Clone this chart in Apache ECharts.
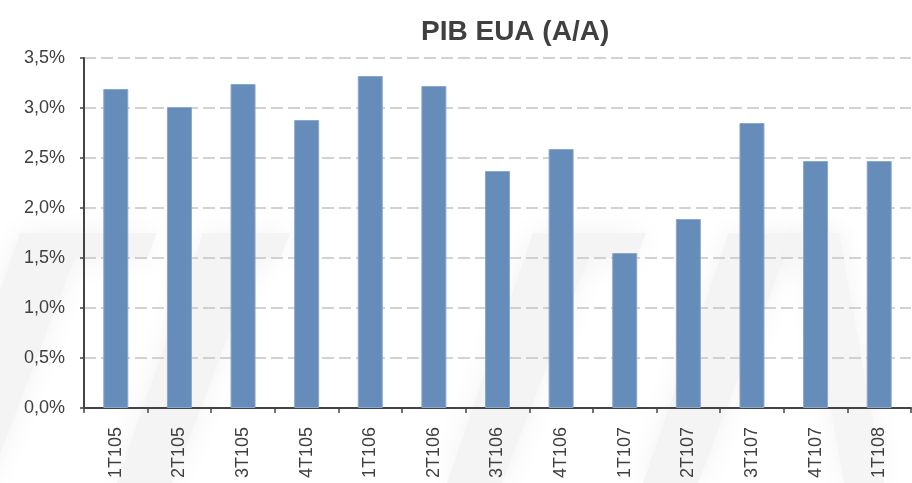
<!DOCTYPE html>
<html>
<head>
<meta charset="utf-8">
<script src="https://cdn.jsdelivr.net/npm/echarts@6/dist/echarts.min.js"></script>
<style>
    html, body { margin: 0; padding: 0; background: #fff; }
    #chart { width: 912px; height: 483px; }
</style>
</head>
<body>
<div id="chart"></div>
<script>
// dados
var titulo = 'PIB EUA (A/A)';
var trimestres = ['1T105', '2T105', '3T105', '4T105', '1T106', '2T106', '3T106', '4T106', '1T107', '2T107', '3T107', '4T107', '1T108'];
var pibAA = [3.19, 3.01, 3.24, 2.88, 3.32, 3.22, 2.37, 2.59, 1.55, 1.89, 2.85, 2.47, 2.47];
var yMin = 0, yMax = 3.5, yPasso = 0.5;

var chart = echarts.init(document.getElementById('chart'));

// marca d'agua de fundo (formas cinza bem claras)
function marca(l, r) {
    return {
        type: 'polygon',
        z: -10,
        silent: true,
        shape: { points: [[l, 233], [r, 233], [r - 10, 258], [l + 55, 258], [l - 31, 483], [l - 86, 483]] },
        style: { fill: '#f4f4f4', shadowBlur: 30, shadowColor: '#f2f2f2' }
    };
}
function perna(r) {
    return {
        type: 'polygon',
        z: -10,
        silent: true,
        shape: { points: [[r - 40, 233], [r, 233], [r + 45, 483], [r + 5, 483]] },
        style: { fill: '#f5f5f5', shadowBlur: 30, shadowColor: '#f3f3f3' }
    };
}

var option = {
    backgroundColor: '#fff',
    animation: false,
    title: {
        text: titulo,
        left: 416,
        top: 13,
        textStyle: {
            fontFamily: 'Liberation Sans',
            fontSize: 28,
            fontWeight: 'bold',
            color: '#404040'
        }
    },
    graphic: [
        marca(20, 157),
        marca(203, 290),
        marca(533, 646),
        marca(729, 839),
        perna(839)
    ],
    grid: { left: 84, right: 1, top: 58, bottom: 75 },
    xAxis: {
        type: 'category',
        data: trimestres,
        boundaryGap: true,
        axisLine: { lineStyle: { color: '#444', width: 2 } },
        axisTick: { show: true, length: 5, lineStyle: { color: '#444', width: 1.5 } },
        axisLabel: {
            rotate: 90,
            margin: 19,
            fontSize: 18,
            fontFamily: 'Liberation Sans',
            color: '#404040'
        },
        splitLine: { show: false }
    },
    yAxis: {
        type: 'value',
        min: yMin,
        max: yMax,
        interval: yPasso,
        axisLine: { show: true, lineStyle: { color: '#444', width: 2 } },
        axisTick: { show: true, length: 4, lineStyle: { color: '#444', width: 1.5 } },
        axisLabel: {
            margin: 19,
            fontSize: 18,
            fontFamily: 'Liberation Sans',
            color: '#404040',
            formatter: function (v) {
                return v.toFixed(1).replace('.', ',') + '%';
            }
        },
        splitLine: {
            show: true,
            lineStyle: { color: '#c4c4c4', width: 1.5, type: [12, 5] }
        }
    },
    series: [
        {
            name: titulo,
            type: 'bar',
            data: pibAA,
            barWidth: 25,
            itemStyle: {
                color: '#668cb9',
                borderColor: '#8aa7cc',
                borderWidth: 1
            }
        }
    ]
};

chart.setOption(option);
</script>
</body>
</html>
